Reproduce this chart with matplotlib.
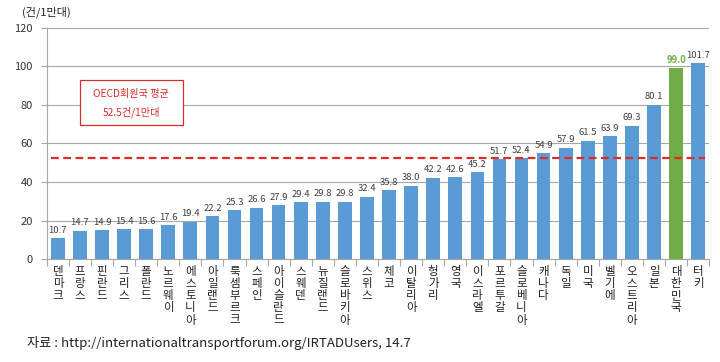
import matplotlib
matplotlib.use("Agg")
import matplotlib.pyplot as plt
from matplotlib.patches import Rectangle

plt.rcParams['font.family'] = ['Noto Sans CJK KR', 'DejaVu Sans']

countries = ["덴마크", "프랑스", "핀란드", "그리스", "폴란드", "노르웨이", "에스토니아",
             "아일랜드", "룩셈부르크", "스페인", "아이슬란드", "스웨덴", "뉴질랜드",
             "슬로바키아", "스위스", "체코", "이탈리아", "헝가리", "영국", "이스라엘",
             "포르투갈", "슬로베니아", "캐나다", "독일", "미국", "벨기에", "오스트리아",
             "일본", "대한민국", "터키"]
values = [10.7, 14.7, 14.9, 15.4, 15.6, 17.6, 19.4, 22.2, 25.3, 26.6, 27.9, 29.4,
          29.8, 29.8, 32.4, 35.8, 38.0, 42.2, 42.6, 45.2, 51.7, 52.4, 54.9, 57.9,
          61.5, 63.9, 69.3, 80.1, 99.0, 101.7]
highlight = "대한민국"
oecd_avg = 52.5
yticks = [0, 20, 40, 60, 80, 100, 120]

blue = "#5B9BD5"
green = "#70AD47"
red = "#E02A2A"

fig = plt.figure(figsize=(7.2, 3.62), dpi=100)
ax = fig.add_axes([0.065, 0.2845, 0.92, 0.6382])

x = list(range(len(countries)))
colors = [green if c == highlight else blue for c in countries]
ax.bar(x, values, width=0.62, color=colors, zorder=3)

for xi, v, c in zip(x, values, countries):
    ax.text(xi, v + 1.8, f"{v:.1f}", ha="center", va="bottom", fontsize=6.8,
            color=(green if c == highlight else "#404040"),
            fontweight=("bold" if c == highlight else "normal"), zorder=4)

ax.plot([-0.3, len(countries) - 0.7], [oecd_avg, oecd_avg], color=red,
        linestyle=(0, (3.5, 2)), linewidth=1.6, zorder=5)

ax.set_xlim(-0.5, len(countries) - 0.5)
ax.set_ylim(0, 120)
ax.set_yticks(yticks)
ax.set_yticklabels([str(t) for t in yticks], fontsize=8, color="#333333")
ax.yaxis.grid(True, color="#A6A6A6", linewidth=0.8, zorder=0)
ax.tick_params(axis="y", length=4, color="#A6A6A6", pad=6)

ax.set_xticks([i - 0.5 for i in range(len(countries) + 1)])
ax.set_xticklabels([])
ax.tick_params(axis="x", length=5, color="#A6A6A6")
for xi, c in zip(x, countries):
    ax.text(xi, -3.0, "\n".join(c), ha="center", va="top", fontsize=8.3,
            linespacing=0.92, color="#222222", transform=ax.transData)

for s in ["top", "right"]:
    ax.spines[s].set_visible(False)
ax.spines["left"].set_color("#A6A6A6")
ax.spines["bottom"].set_color("#A6A6A6")

# OECD average box
ax.add_patch(Rectangle((1.0, 69.6), 4.65, 23.4, facecolor="white", edgecolor=red,
                       linewidth=0.9, zorder=5))
ax.text(3.33, 85.8, "OECD회원국 평균", ha="center", va="center", fontsize=7.3, color=red, zorder=6)
ax.text(3.33, 76.0, "52.5건/1만대", ha="center", va="center", fontsize=7.3, color=red, zorder=6)

fig.text(0.03, 0.965, "(건/1만대)", fontsize=8, color="#222222", ha="left", va="center")
fig.text(0.038, 0.052, "자료 : http://internationaltransportforum.org/IRTADUsers, 14.7",
         fontsize=9.5, color="#222222", ha="left", va="center")

fig.savefig("out.png", dpi=100)
